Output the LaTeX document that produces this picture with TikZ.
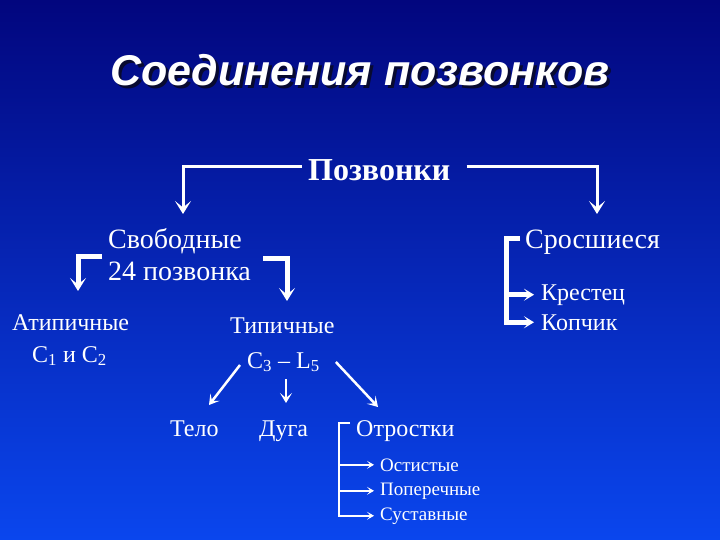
\documentclass[tikz,border=0pt]{standalone}
\usepackage{fontspec}
\setmainfont{Liberation Serif}
\newfontfamily\titlefont{Liberation Sans}
\usetikzlibrary{arrows.meta,calc}
\definecolor{bgtop}{HTML}{02067E}
\definecolor{bgbot}{HTML}{0A46EE}
\definecolor{shd}{HTML}{080A30}

\begin{document}
\begin{tikzpicture}[x=1pt,y=-1pt,
  lbl/.style={text=white,inner sep=0pt,anchor=base west},
  ttl/.style={font=\titlefont\bfseries\itshape\fontsize{43}{48}\selectfont,inner sep=0pt,anchor=base},
  big/.style={font=\fontsize{28}{32}\selectfont},
  mid/.style={font=\fontsize{24}{28}\selectfont},
  sml/.style={font=\fontsize{19}{22}\selectfont},
  brk/.style={draw=white,line width=#1},
  tipA/.style={-{Stealth[length=13pt,width=16pt,inset=6.5pt]}},
  tipB/.style={-{Stealth[length=10pt,width=12pt,inset=5pt]}},
  tipC/.style={-{Stealth[length=7pt,width=8pt,inset=3.5pt]}}]
  \shade[top color=bgtop,bottom color=bgbot] (0,0) rectangle (720,540);
  \useasboundingbox (0,0) rectangle (720,540);
  % title
  \node[ttl,text=shd] (ttls) at (363,89) {Соединения позвонков};
  \node[ttl,text=white] (ttl) at (360,86) {Соединения позвонков};
  % top level
  \node[lbl,font=\bfseries\fontsize{32}{36}\selectfont] (pz) at (308,181) {Позвонки};
  \coordinate (svbTip) at (183,214);
  \coordinate (srsTip) at (597,214);
  \draw[brk=3pt,tipA] ([shift={(-6,-14)}]pz.base west) -| (svbTip);
  \draw[brk=3pt,tipA] ([shift={(16,-14)}]pz.base east) -| (srsTip);
  % free vertebrae
  \node[lbl,big] (svb) at (108,248) {Свободные};
  \node[lbl,big] (svb2) at (108,280) {24 позвонка};
  \coordinate (atTip) at (78,291);
  \coordinate (tpTip) at (287,301);
  \draw[brk=5pt,tipA] ([shift={(-6,8)}]svb.base west) -| (atTip);
  \draw[brk=5pt,tipA] ([shift={(12,-22)}]svb2.base east) -| (tpTip);
  \node[lbl,mid] (at) at (12,330) {Атипичные};
  \node[lbl,mid] (at2) at (32,362) {C\textsubscript{1} и C\textsubscript{2}};
  \node[lbl,mid] (tp) at (230,333) {Типичные};
  \node[lbl,mid] (tp2) at (247,368) {C\textsubscript{3} – L\textsubscript{5}};
  % parts of a typical vertebra
  \node[lbl,mid] (tel) at (170,436) {Тело};
  \node[lbl,mid] (dug) at (259,436) {Дуга};
  \node[lbl,mid] (otr) at (356,436) {Отростки};
  \coordinate (telTip) at (209,405);
  \coordinate (dugTip) at (286,403);
  \coordinate (otrTip) at (378,407);
  \draw[brk=2.5pt,tipB] ([shift={(-7,-3)}]tp2.base west) -- (telTip);
  \draw[brk=2.5pt,tipB] (tp2.south -| dugTip) ++(0,7) -- (dugTip);
  \draw[brk=2.5pt,tipB] ([shift={(16,-6)}]tp2.base east) -- (otrTip);
  % processes
  \node[lbl,sml] (ost) at (380,471) {Остистые};
  \node[lbl,sml] (pop) at (380,495) {Поперечные};
  \node[lbl,sml] (sus) at (380,520) {Суставные};
  \coordinate (otv) at (339,423);
  \draw[brk=1.5pt,tipC] ([shift={(-6,-13)}]otr.base west) -- (otv) |- ([xshift=-6pt]sus.west);
  \draw[brk=1.5pt,tipC] (otv |- ost.west) -- ([xshift=-6pt]ost.west);
  \draw[brk=1.5pt,tipC] (otv |- pop.west) -- ([xshift=-6pt]pop.west);
  % fused vertebrae
  \node[lbl,big] (srs) at (525,248) {Сросшиеся};
  \node[lbl,mid] (kr) at (541,300) {Крестец};
  \node[lbl,mid] (kop) at (541,330) {Копчик};
  \coordinate (srv) at (506,238);
  \draw[brk=5pt,tipB] ([shift={(-5,-10)}]srs.base west) -- (srv) |- ([xshift=-7pt]kop.west);
  \draw[brk=5pt,tipB] (srv |- kr.west) -- ([xshift=-7pt]kr.west);
\end{tikzpicture}
\end{document}
